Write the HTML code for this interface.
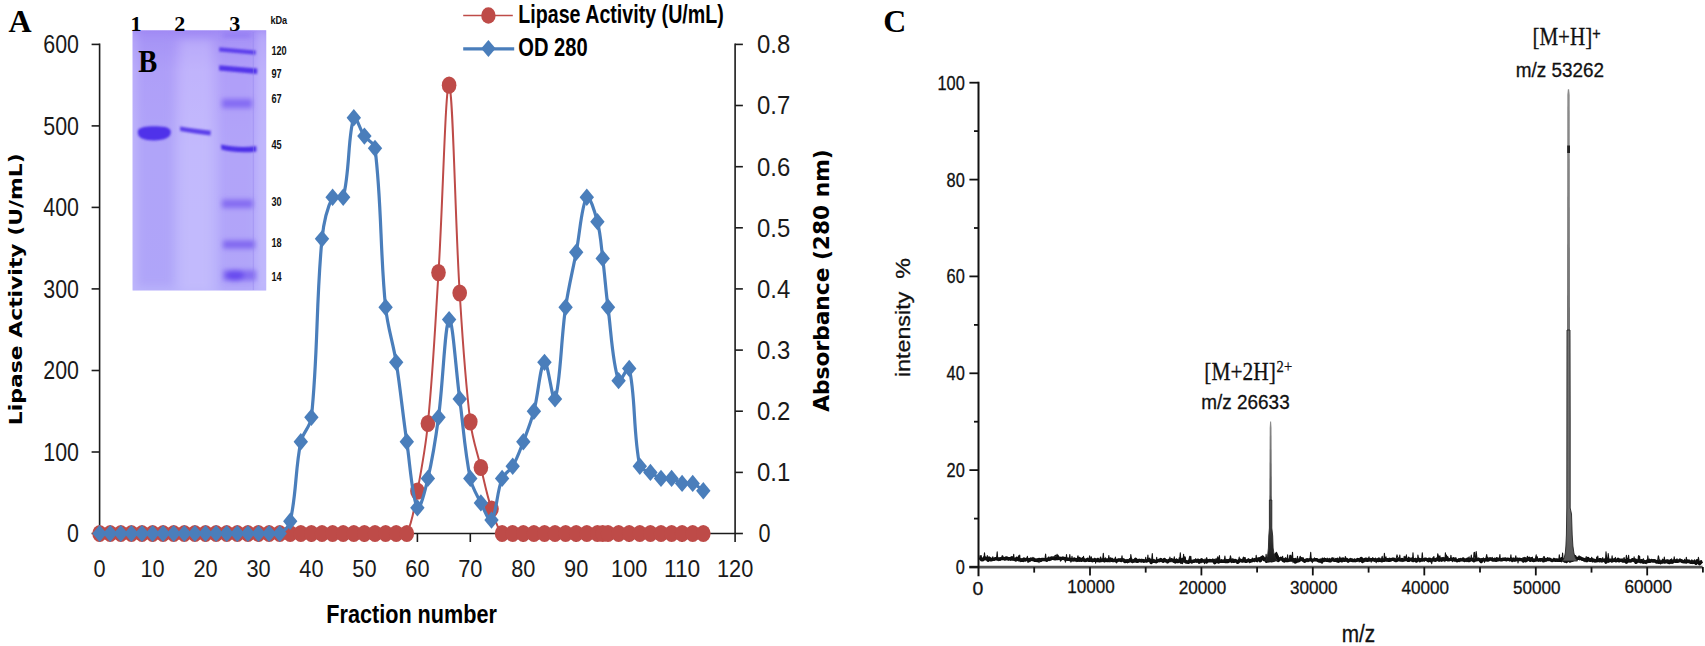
<!DOCTYPE html>
<html><head><meta charset="utf-8"><title>Figure</title>
<style>
html,body{margin:0;padding:0;background:#fff}
body{width:1705px;height:646px;overflow:hidden}
svg{display:block}
.ls{font-family:"Liberation Sans",sans-serif}
.lf{font-family:"Liberation Serif",serif}
.dj{font-family:"DejaVu Sans","Liberation Sans",sans-serif}
</style></head><body>
<svg width="1705" height="646" viewBox="0 0 1705 646">
<rect width="1705" height="646" fill="#fff"/>
<defs>
<clipPath id="gc"><rect x="132.6" y="30.3" width="133.6" height="260.3"/></clipPath>
<linearGradient id="gv" x1="0" y1="30" x2="0" y2="291" gradientUnits="userSpaceOnUse">
<stop offset="0" stop-color="#9f88f4"/><stop offset="0.05" stop-color="#ab98f7"/><stop offset="0.16" stop-color="#b7a7fa"/><stop offset="0.45" stop-color="#bab0fb"/><stop offset="1" stop-color="#b9b2fb"/></linearGradient>
<filter id="b1" x="-20%" y="-50%" width="140%" height="200%"><feGaussianBlur stdDeviation="1.3"/></filter>
<filter id="b2" x="-20%" y="-50%" width="140%" height="200%"><feGaussianBlur stdDeviation="2.4"/></filter>
<filter id="b4" x="-30%" y="-10%" width="160%" height="120%"><feGaussianBlur stdDeviation="4"/></filter>
</defs>
<g clip-path="url(#gc)"><rect x="130" y="28" width="140" height="266" fill="url(#gv)"/><g filter="url(#b4)"><rect x="137" y="36" width="36" height="250" fill="#a190f5" opacity="0.4"/><rect x="180" y="40" width="32" height="252" fill="#d0c8ff" opacity="0.38"/><rect x="220" y="30" width="36" height="262" fill="#a391f6" opacity="0.38"/><rect x="258" y="30" width="10" height="262" fill="#c8c0fd" opacity="0.6"/><rect x="130" y="30" width="6" height="262" fill="#c4bafc" opacity="0.6"/></g><g filter="url(#b2)"><rect x="222" y="99" width="30" height="9" fill="#7d60f2" opacity="0.85"/><rect x="222" y="199.5" width="31" height="8.5" fill="#7c62f0" opacity="0.85"/><rect x="223" y="240.5" width="32" height="8" fill="#7a5ff0" opacity="0.9"/><rect x="223" y="270" width="33" height="10.5" fill="#7a60f0" opacity="0.8"/><ellipse cx="235" cy="275.5" rx="9" ry="5.5" fill="#6648ee" opacity="0.9"/><rect x="223" y="33.8" width="28" height="3" fill="#7d62f0" opacity="0.6"/></g><g filter="url(#b1)"><path d="M137.8 131.5C138.3 127 146 126.2 154 126.2S170.3 126.6 170.8 131.5C171.3 137.6 164 140.4 154 140.4S137.3 138 137.8 131.5Z" fill="#4f33ea"/><path d="M180 126.6C190 128.2 200 129.4 210.8 130.8L210.5 135.4C200 134.2 190 132.8 180.2 131Z" fill="#5b3fea"/><path d="M219.3 47.2L255.8 50.4L255.5 54.8L219 51.4Z" fill="#5d40ec"/><path d="M219.3 65.2L257.3 68.4L257 74L219 70.6Z" fill="#5335ea"/><path d="M221 144.6C232 147 245 147.6 256.2 146L256.4 151.4C245 153 232 152.4 221.4 149.6Z" fill="#4d30e8"/></g><path d="M253.3 32V290" stroke="#9484ee" stroke-width="0.8" opacity="0.6"/></g>
<g fill="#000"><text x="130.6" y="31.2" class="lf" font-size="22" font-weight="bold">1</text><text x="174.2" y="31.2" class="lf" font-size="22" font-weight="bold">2</text><text x="229.2" y="31.2" class="lf" font-size="22" font-weight="bold">3</text><text x="138.2" y="72.4" class="lf" font-size="32" font-weight="bold" textLength="19.0" lengthAdjust="spacingAndGlyphs">B</text></g><g fill="#111"><text x="270.4" y="24.1" class="ls" font-size="10.8" font-weight="bold" textLength="16.8" lengthAdjust="spacingAndGlyphs">kDa</text><text x="271.4" y="54.6" class="ls" font-size="12" font-weight="bold" textLength="15.3" lengthAdjust="spacingAndGlyphs">120</text><text x="271.4" y="77.8" class="ls" font-size="12" font-weight="bold" textLength="10.2" lengthAdjust="spacingAndGlyphs">97</text><text x="271.4" y="103.3" class="ls" font-size="12" font-weight="bold" textLength="10.2" lengthAdjust="spacingAndGlyphs">67</text><text x="271.4" y="149.3" class="ls" font-size="12" font-weight="bold" textLength="10.2" lengthAdjust="spacingAndGlyphs">45</text><text x="271.4" y="206.3" class="ls" font-size="12" font-weight="bold" textLength="10.2" lengthAdjust="spacingAndGlyphs">30</text><text x="271.4" y="247.4" class="ls" font-size="12" font-weight="bold" textLength="10.2" lengthAdjust="spacingAndGlyphs">18</text><text x="271.4" y="280.7" class="ls" font-size="12" font-weight="bold" textLength="10.2" lengthAdjust="spacingAndGlyphs">14</text></g>
<g stroke="#1c1c1c" stroke-width="1.6" fill="none"><path d="M99.6 43.6 V533.5 H735.1 V43.6"/><path d="M91.6 533.5 H99.6"/><path d="M91.6 452.0 H99.6"/><path d="M91.6 370.5 H99.6"/><path d="M91.6 288.9 H99.6"/><path d="M91.6 207.4 H99.6"/><path d="M91.6 125.9 H99.6"/><path d="M91.6 44.4 H99.6"/><path d="M735.1 533.5 H742.9"/><path d="M735.1 472.4 H742.9"/><path d="M735.1 411.2 H742.9"/><path d="M735.1 350.1 H742.9"/><path d="M735.1 288.9 H742.9"/><path d="M735.1 227.8 H742.9"/><path d="M735.1 166.7 H742.9"/><path d="M735.1 105.5 H742.9"/><path d="M735.1 44.4 H742.9"/><path d="M99.6 533.5 V542.0"/><path d="M152.6 533.5 V542.0"/><path d="M205.5 533.5 V542.0"/><path d="M258.5 533.5 V542.0"/><path d="M311.4 533.5 V542.0"/><path d="M364.4 533.5 V542.0"/><path d="M417.4 533.5 V542.0"/><path d="M470.3 533.5 V542.0"/><path d="M523.3 533.5 V542.0"/><path d="M576.2 533.5 V542.0"/><path d="M629.2 533.5 V542.0"/><path d="M682.1 533.5 V542.0"/><path d="M735.1 533.5 V542.0"/></g>
<g fill="#1a1a1a"><text x="79.0" y="542.4" class="ls" font-size="25.5" text-anchor="end" textLength="11.9" lengthAdjust="spacingAndGlyphs">0</text><text x="79.0" y="460.9" class="ls" font-size="25.5" text-anchor="end" textLength="35.7" lengthAdjust="spacingAndGlyphs">100</text><text x="79.0" y="379.4" class="ls" font-size="25.5" text-anchor="end" textLength="35.7" lengthAdjust="spacingAndGlyphs">200</text><text x="79.0" y="297.8" class="ls" font-size="25.5" text-anchor="end" textLength="35.7" lengthAdjust="spacingAndGlyphs">300</text><text x="79.0" y="216.3" class="ls" font-size="25.5" text-anchor="end" textLength="35.7" lengthAdjust="spacingAndGlyphs">400</text><text x="79.0" y="134.8" class="ls" font-size="25.5" text-anchor="end" textLength="35.7" lengthAdjust="spacingAndGlyphs">500</text><text x="79.0" y="53.3" class="ls" font-size="25.5" text-anchor="end" textLength="35.7" lengthAdjust="spacingAndGlyphs">600</text><text x="758.5" y="542.4" class="ls" font-size="25.5" textLength="12.0" lengthAdjust="spacingAndGlyphs">0</text><text x="757.0" y="481.3" class="ls" font-size="25.5" textLength="33.2" lengthAdjust="spacingAndGlyphs">0.1</text><text x="757.0" y="420.1" class="ls" font-size="25.5" textLength="33.2" lengthAdjust="spacingAndGlyphs">0.2</text><text x="757.0" y="359.0" class="ls" font-size="25.5" textLength="33.2" lengthAdjust="spacingAndGlyphs">0.3</text><text x="757.0" y="297.8" class="ls" font-size="25.5" textLength="33.2" lengthAdjust="spacingAndGlyphs">0.4</text><text x="757.0" y="236.7" class="ls" font-size="25.5" textLength="33.2" lengthAdjust="spacingAndGlyphs">0.5</text><text x="757.0" y="175.6" class="ls" font-size="25.5" textLength="33.2" lengthAdjust="spacingAndGlyphs">0.6</text><text x="757.0" y="114.4" class="ls" font-size="25.5" textLength="33.2" lengthAdjust="spacingAndGlyphs">0.7</text><text x="757.0" y="53.3" class="ls" font-size="25.5" textLength="33.2" lengthAdjust="spacingAndGlyphs">0.8</text><text x="99.6" y="576.6" class="ls" font-size="24" text-anchor="middle" textLength="12.1" lengthAdjust="spacingAndGlyphs">0</text><text x="152.6" y="576.6" class="ls" font-size="24" text-anchor="middle" textLength="24.2" lengthAdjust="spacingAndGlyphs">10</text><text x="205.5" y="576.6" class="ls" font-size="24" text-anchor="middle" textLength="24.2" lengthAdjust="spacingAndGlyphs">20</text><text x="258.5" y="576.6" class="ls" font-size="24" text-anchor="middle" textLength="24.2" lengthAdjust="spacingAndGlyphs">30</text><text x="311.4" y="576.6" class="ls" font-size="24" text-anchor="middle" textLength="24.2" lengthAdjust="spacingAndGlyphs">40</text><text x="364.4" y="576.6" class="ls" font-size="24" text-anchor="middle" textLength="24.2" lengthAdjust="spacingAndGlyphs">50</text><text x="417.4" y="576.6" class="ls" font-size="24" text-anchor="middle" textLength="24.2" lengthAdjust="spacingAndGlyphs">60</text><text x="470.3" y="576.6" class="ls" font-size="24" text-anchor="middle" textLength="24.2" lengthAdjust="spacingAndGlyphs">70</text><text x="523.3" y="576.6" class="ls" font-size="24" text-anchor="middle" textLength="24.2" lengthAdjust="spacingAndGlyphs">80</text><text x="576.2" y="576.6" class="ls" font-size="24" text-anchor="middle" textLength="24.2" lengthAdjust="spacingAndGlyphs">90</text><text x="629.2" y="576.6" class="ls" font-size="24" text-anchor="middle" textLength="36.3" lengthAdjust="spacingAndGlyphs">100</text><text x="682.1" y="576.6" class="ls" font-size="24" text-anchor="middle" textLength="36.3" lengthAdjust="spacingAndGlyphs">110</text><text x="735.1" y="576.6" class="ls" font-size="24" text-anchor="middle" textLength="36.3" lengthAdjust="spacingAndGlyphs">120</text></g>
<path d="M99.6 533.5C101.5 533.5 106.4 533.5 110.2 533.5C114.0 533.5 117.0 533.5 120.8 533.5C124.6 533.5 127.6 533.5 131.4 533.5C135.2 533.5 138.2 533.5 142.0 533.5C145.8 533.5 148.7 533.5 152.6 533.5C156.4 533.5 159.3 533.5 163.1 533.5C167.0 533.5 169.9 533.5 173.7 533.5C177.6 533.5 180.5 533.5 184.3 533.5C188.1 533.5 191.1 533.5 194.9 533.5C198.7 533.5 201.7 533.5 205.5 533.5C209.3 533.5 212.3 533.5 216.1 533.5C219.9 533.5 222.9 533.5 226.7 533.5C230.5 533.5 233.5 533.5 237.3 533.5C241.1 533.5 244.1 533.5 247.9 533.5C251.7 533.5 254.7 533.5 258.5 533.5C262.3 533.5 265.3 533.5 269.1 533.5C272.9 533.5 275.8 533.5 279.7 533.5C283.5 533.5 286.4 533.5 290.2 533.5C294.1 533.5 297.0 533.5 300.8 533.5C304.7 533.5 307.6 533.5 311.4 533.5C315.2 533.5 318.2 533.5 322.0 533.5C325.8 533.5 328.8 533.5 332.6 533.5C336.4 533.5 339.4 533.5 343.2 533.5C347.0 533.5 350.0 533.5 353.8 533.5C357.6 533.5 360.6 533.5 364.4 533.5C368.2 533.5 371.2 533.5 375.0 533.5C378.8 533.5 381.8 533.5 385.6 533.5C389.4 533.5 392.4 533.5 396.2 533.5C400.0 533.5 405.3 536.5 406.8 533.5C412.9 521.2 414.4 506.5 417.4 491.1C422.0 466.9 425.6 448.0 427.9 423.5C433.2 369.3 435.1 327.0 438.5 272.6C442.8 205.2 445.5 81.7 449.1 85.2C453.1 89.0 455.0 218.3 459.7 293.0C462.6 339.5 464.7 375.7 470.3 421.8C472.3 438.5 476.9 451.1 480.9 467.5C484.5 482.5 486.8 494.4 491.5 509.0C494.4 518.2 496.6 527.2 502.1 533.5C504.3 536.0 508.9 533.5 512.7 533.5C516.5 533.5 519.5 533.5 523.3 533.5C527.1 533.5 530.0 533.5 533.9 533.5C537.7 533.5 540.6 533.5 544.5 533.5C548.3 533.5 551.2 533.5 555.0 533.5C558.9 533.5 561.8 533.5 565.6 533.5C569.4 533.5 572.4 533.5 576.2 533.5C580.0 533.5 583.0 533.5 586.8 533.5C590.6 533.5 593.6 533.5 597.4 533.5C599.3 533.5 600.8 533.5 602.7 533.5C604.6 533.5 606.1 533.5 608.0 533.5C611.8 533.5 614.8 533.5 618.6 533.5C622.4 533.5 625.4 533.5 629.2 533.5C633.0 533.5 636.0 533.5 639.8 533.5C643.6 533.5 646.6 533.5 650.4 533.5C654.2 533.5 657.1 533.5 661.0 533.5C664.8 533.5 667.7 533.5 671.6 533.5C675.4 533.5 678.3 533.5 682.1 533.5C686.0 533.5 688.9 533.5 692.7 533.5C696.5 533.5 701.4 533.5 703.3 533.5" fill="none" stroke="#be4b48" stroke-width="2" stroke-linejoin="round"/>
<g fill="#be4b48"><ellipse cx="99.6" cy="533.5" rx="7.3" ry="8.6"/><ellipse cx="110.2" cy="533.5" rx="7.3" ry="8.6"/><ellipse cx="120.8" cy="533.5" rx="7.3" ry="8.6"/><ellipse cx="131.4" cy="533.5" rx="7.3" ry="8.6"/><ellipse cx="142.0" cy="533.5" rx="7.3" ry="8.6"/><ellipse cx="152.6" cy="533.5" rx="7.3" ry="8.6"/><ellipse cx="163.1" cy="533.5" rx="7.3" ry="8.6"/><ellipse cx="173.7" cy="533.5" rx="7.3" ry="8.6"/><ellipse cx="184.3" cy="533.5" rx="7.3" ry="8.6"/><ellipse cx="194.9" cy="533.5" rx="7.3" ry="8.6"/><ellipse cx="205.5" cy="533.5" rx="7.3" ry="8.6"/><ellipse cx="216.1" cy="533.5" rx="7.3" ry="8.6"/><ellipse cx="226.7" cy="533.5" rx="7.3" ry="8.6"/><ellipse cx="237.3" cy="533.5" rx="7.3" ry="8.6"/><ellipse cx="247.9" cy="533.5" rx="7.3" ry="8.6"/><ellipse cx="258.5" cy="533.5" rx="7.3" ry="8.6"/><ellipse cx="269.1" cy="533.5" rx="7.3" ry="8.6"/><ellipse cx="279.7" cy="533.5" rx="7.3" ry="8.6"/><ellipse cx="290.2" cy="533.5" rx="7.3" ry="8.6"/><ellipse cx="300.8" cy="533.5" rx="7.3" ry="8.6"/><ellipse cx="311.4" cy="533.5" rx="7.3" ry="8.6"/><ellipse cx="322.0" cy="533.5" rx="7.3" ry="8.6"/><ellipse cx="332.6" cy="533.5" rx="7.3" ry="8.6"/><ellipse cx="343.2" cy="533.5" rx="7.3" ry="8.6"/><ellipse cx="353.8" cy="533.5" rx="7.3" ry="8.6"/><ellipse cx="364.4" cy="533.5" rx="7.3" ry="8.6"/><ellipse cx="375.0" cy="533.5" rx="7.3" ry="8.6"/><ellipse cx="385.6" cy="533.5" rx="7.3" ry="8.6"/><ellipse cx="396.2" cy="533.5" rx="7.3" ry="8.6"/><ellipse cx="406.8" cy="533.5" rx="7.3" ry="8.6"/><ellipse cx="417.4" cy="491.1" rx="7.3" ry="8.6"/><ellipse cx="427.9" cy="423.5" rx="7.3" ry="8.6"/><ellipse cx="438.5" cy="272.6" rx="7.3" ry="8.6"/><ellipse cx="449.1" cy="85.2" rx="7.3" ry="8.6"/><ellipse cx="459.7" cy="293.0" rx="7.3" ry="8.6"/><ellipse cx="470.3" cy="421.8" rx="7.3" ry="8.6"/><ellipse cx="480.9" cy="467.5" rx="7.3" ry="8.6"/><ellipse cx="491.5" cy="509.0" rx="7.3" ry="8.6"/><ellipse cx="502.1" cy="533.5" rx="7.3" ry="8.6"/><ellipse cx="512.7" cy="533.5" rx="7.3" ry="8.6"/><ellipse cx="523.3" cy="533.5" rx="7.3" ry="8.6"/><ellipse cx="533.9" cy="533.5" rx="7.3" ry="8.6"/><ellipse cx="544.5" cy="533.5" rx="7.3" ry="8.6"/><ellipse cx="555.0" cy="533.5" rx="7.3" ry="8.6"/><ellipse cx="565.6" cy="533.5" rx="7.3" ry="8.6"/><ellipse cx="576.2" cy="533.5" rx="7.3" ry="8.6"/><ellipse cx="586.8" cy="533.5" rx="7.3" ry="8.6"/><ellipse cx="597.4" cy="533.5" rx="7.3" ry="8.6"/><ellipse cx="602.7" cy="533.5" rx="7.3" ry="8.6"/><ellipse cx="608.0" cy="533.5" rx="7.3" ry="8.6"/><ellipse cx="618.6" cy="533.5" rx="7.3" ry="8.6"/><ellipse cx="629.2" cy="533.5" rx="7.3" ry="8.6"/><ellipse cx="639.8" cy="533.5" rx="7.3" ry="8.6"/><ellipse cx="650.4" cy="533.5" rx="7.3" ry="8.6"/><ellipse cx="661.0" cy="533.5" rx="7.3" ry="8.6"/><ellipse cx="671.6" cy="533.5" rx="7.3" ry="8.6"/><ellipse cx="682.1" cy="533.5" rx="7.3" ry="8.6"/><ellipse cx="692.7" cy="533.5" rx="7.3" ry="8.6"/><ellipse cx="703.3" cy="533.5" rx="7.3" ry="8.6"/></g>
<path d="M99.6 533.5C101.5 533.5 106.4 533.5 110.2 533.5C114.0 533.5 117.0 533.5 120.8 533.5C124.6 533.5 127.6 533.5 131.4 533.5C135.2 533.5 138.2 533.5 142.0 533.5C145.8 533.5 148.7 533.5 152.6 533.5C156.4 533.5 159.3 533.5 163.1 533.5C167.0 533.5 169.9 533.5 173.7 533.5C177.6 533.5 180.5 533.5 184.3 533.5C188.1 533.5 191.1 533.5 194.9 533.5C198.7 533.5 201.7 533.5 205.5 533.5C209.3 533.5 212.3 533.5 216.1 533.5C219.9 533.5 222.9 533.5 226.7 533.5C230.5 533.5 233.5 533.5 237.3 533.5C241.1 533.5 244.1 533.5 247.9 533.5C251.7 533.5 254.7 533.5 258.5 533.5C262.3 533.5 265.3 533.5 269.1 533.5C272.9 533.5 276.6 535.2 279.7 533.5C284.3 530.8 289.0 526.8 290.2 521.3C296.6 493.8 295.1 469.9 300.8 441.8C302.7 432.5 310.4 426.8 311.4 417.3C318.1 353.7 315.9 302.7 322.0 238.8C323.5 223.5 326.5 209.2 332.6 197.2C334.1 194.3 342.3 200.6 343.2 197.2C349.9 172.0 347.8 135.2 353.8 117.8C355.4 113.2 360.1 129.9 364.4 136.1C367.7 140.9 374.3 142.7 375.0 148.3C381.9 204.3 379.9 250.3 385.6 307.3C387.6 327.3 393.0 342.4 396.2 362.3C400.7 390.8 402.6 413.2 406.8 441.8C410.2 465.6 412.2 498.8 417.4 507.8C419.8 512.0 425.4 489.4 427.9 478.5C433.0 456.8 435.6 439.5 438.5 417.3C443.2 382.2 444.9 323.2 449.1 319.5C452.5 316.6 455.9 370.4 459.7 399.0C463.5 427.6 464.6 450.4 470.3 478.5C472.2 487.8 476.6 494.4 480.9 502.9C484.2 509.4 489.1 522.9 491.5 520.0C496.7 514.1 496.5 492.5 502.1 478.5C504.2 473.2 509.8 471.2 512.7 466.2C517.4 458.0 519.8 450.7 523.3 441.8C527.4 430.9 530.9 422.5 533.9 411.2C538.5 393.8 540.1 364.8 544.5 362.3C547.8 360.4 552.8 404.8 555.0 399.0C560.4 385.0 560.9 340.2 565.6 307.3C568.5 287.3 572.4 272.1 576.2 252.3C580.0 232.5 581.6 204.7 586.8 197.2C589.3 193.7 595.0 212.5 597.4 221.7C600.7 234.5 601.1 245.1 602.7 258.4C604.9 276.0 605.7 289.7 608.0 307.3C611.4 333.8 612.3 362.6 618.6 380.7C620.0 384.6 628.1 364.1 629.2 368.4C635.7 394.9 633.0 433.0 639.8 466.2C640.6 470.4 646.6 470.2 650.4 472.4C654.2 474.6 656.9 477.3 661.0 478.5C664.5 479.5 667.9 477.6 671.6 478.5C675.5 479.4 678.1 482.4 682.1 483.4C685.8 484.2 689.3 482.2 692.7 483.4C696.9 484.8 701.4 489.4 703.3 490.7" fill="none" stroke="#4a7ebb" stroke-width="3.2" stroke-linejoin="round"/>
<g fill="#4a7ebb"><path d="M99.6 524.9L106.8 533.5L99.6 542.1L92.4 533.5Z"/><path d="M110.2 524.9L117.4 533.5L110.2 542.1L103.0 533.5Z"/><path d="M120.8 524.9L128.0 533.5L120.8 542.1L113.6 533.5Z"/><path d="M131.4 524.9L138.6 533.5L131.4 542.1L124.2 533.5Z"/><path d="M142.0 524.9L149.2 533.5L142.0 542.1L134.8 533.5Z"/><path d="M152.6 524.9L159.8 533.5L152.6 542.1L145.4 533.5Z"/><path d="M163.1 524.9L170.3 533.5L163.1 542.1L155.9 533.5Z"/><path d="M173.7 524.9L180.9 533.5L173.7 542.1L166.5 533.5Z"/><path d="M184.3 524.9L191.5 533.5L184.3 542.1L177.1 533.5Z"/><path d="M194.9 524.9L202.1 533.5L194.9 542.1L187.7 533.5Z"/><path d="M205.5 524.9L212.7 533.5L205.5 542.1L198.3 533.5Z"/><path d="M216.1 524.9L223.3 533.5L216.1 542.1L208.9 533.5Z"/><path d="M226.7 524.9L233.9 533.5L226.7 542.1L219.5 533.5Z"/><path d="M237.3 524.9L244.5 533.5L237.3 542.1L230.1 533.5Z"/><path d="M247.9 524.9L255.1 533.5L247.9 542.1L240.7 533.5Z"/><path d="M258.5 524.9L265.7 533.5L258.5 542.1L251.3 533.5Z"/><path d="M269.1 524.9L276.3 533.5L269.1 542.1L261.9 533.5Z"/><path d="M279.7 524.9L286.9 533.5L279.7 542.1L272.5 533.5Z"/><path d="M290.2 512.6L297.4 521.3L290.2 529.9L283.1 521.3Z"/><path d="M300.8 433.1L308.0 441.8L300.8 450.4L293.6 441.8Z"/><path d="M311.4 408.7L318.6 417.3L311.4 426.0L304.2 417.3Z"/><path d="M322.0 230.2L329.2 238.8L322.0 247.5L314.8 238.8Z"/><path d="M332.6 188.6L339.8 197.2L332.6 205.9L325.4 197.2Z"/><path d="M343.2 188.6L350.4 197.2L343.2 205.9L336.0 197.2Z"/><path d="M353.8 109.1L361.0 117.8L353.8 126.4L346.6 117.8Z"/><path d="M364.4 127.5L371.6 136.1L364.4 144.8L357.2 136.1Z"/><path d="M375.0 139.7L382.2 148.3L375.0 157.0L367.8 148.3Z"/><path d="M385.6 298.6L392.8 307.3L385.6 315.9L378.4 307.3Z"/><path d="M396.2 353.7L403.4 362.3L396.2 371.0L389.0 362.3Z"/><path d="M406.8 433.1L414.0 441.8L406.8 450.4L399.6 441.8Z"/><path d="M417.4 499.2L424.6 507.8L417.4 516.5L410.2 507.8Z"/><path d="M427.9 469.8L435.1 478.5L427.9 487.1L420.7 478.5Z"/><path d="M438.5 408.7L445.7 417.3L438.5 426.0L431.3 417.3Z"/><path d="M449.1 310.9L456.3 319.5L449.1 328.2L441.9 319.5Z"/><path d="M459.7 390.3L466.9 399.0L459.7 407.6L452.5 399.0Z"/><path d="M470.3 469.8L477.5 478.5L470.3 487.1L463.1 478.5Z"/><path d="M480.9 494.3L488.1 502.9L480.9 511.6L473.7 502.9Z"/><path d="M491.5 511.4L498.7 520.0L491.5 528.7L484.3 520.0Z"/><path d="M502.1 469.8L509.3 478.5L502.1 487.1L494.9 478.5Z"/><path d="M512.7 457.6L519.9 466.2L512.7 474.9L505.5 466.2Z"/><path d="M523.3 433.1L530.5 441.8L523.3 450.4L516.1 441.8Z"/><path d="M533.9 402.6L541.1 411.2L533.9 419.9L526.7 411.2Z"/><path d="M544.5 353.7L551.7 362.3L544.5 371.0L537.2 362.3Z"/><path d="M555.0 390.3L562.2 399.0L555.0 407.6L547.8 399.0Z"/><path d="M565.6 298.6L572.8 307.3L565.6 315.9L558.4 307.3Z"/><path d="M576.2 243.6L583.4 252.3L576.2 260.9L569.0 252.3Z"/><path d="M586.8 188.6L594.0 197.2L586.8 205.9L579.6 197.2Z"/><path d="M597.4 213.0L604.6 221.7L597.4 230.3L590.2 221.7Z"/><path d="M602.7 249.7L609.9 258.4L602.7 267.0L595.5 258.4Z"/><path d="M608.0 298.6L615.2 307.3L608.0 315.9L600.8 307.3Z"/><path d="M618.6 372.0L625.8 380.7L618.6 389.3L611.4 380.7Z"/><path d="M629.2 359.8L636.4 368.4L629.2 377.1L622.0 368.4Z"/><path d="M639.8 457.6L647.0 466.2L639.8 474.9L632.6 466.2Z"/><path d="M650.4 463.7L657.6 472.4L650.4 481.0L643.2 472.4Z"/><path d="M661.0 469.8L668.2 478.5L661.0 487.1L653.8 478.5Z"/><path d="M671.6 469.8L678.8 478.5L671.6 487.1L664.4 478.5Z"/><path d="M682.1 474.7L689.3 483.4L682.1 492.0L674.9 483.4Z"/><path d="M692.7 474.7L699.9 483.4L692.7 492.0L685.5 483.4Z"/><path d="M703.3 482.1L710.5 490.7L703.3 499.4L696.1 490.7Z"/></g>
<path d="M463.2 15.5H512.8" stroke="#be4b48" stroke-width="1.7"/><ellipse cx="488.4" cy="15.5" rx="7.2" ry="8.2" fill="#be4b48"/>
<path d="M463.2 48.9H514.2" stroke="#4a7ebb" stroke-width="3.2"/><g fill="#4a7ebb"><path d="M488.4 39.9L495.6 48.5L488.4 57.1L481.2 48.5Z"/></g>
<text x="518.3" y="22.5" class="ls" font-size="25.5" font-weight="bold" textLength="205.5" lengthAdjust="spacingAndGlyphs" fill="#000">Lipase Activity (U/mL)</text>
<text x="518.3" y="56.3" class="ls" font-size="25" font-weight="bold" textLength="69.3" lengthAdjust="spacingAndGlyphs" fill="#000">OD 280</text>
<text x="411.6" y="623.2" class="ls" font-size="25" font-weight="bold" text-anchor="middle" textLength="170.6" lengthAdjust="spacingAndGlyphs" fill="#000">Fraction number</text>
<text class="dj" font-size="18.5" font-weight="bold" text-anchor="middle" textLength="272.0" lengthAdjust="spacingAndGlyphs" fill="#000" transform="translate(21.8 289.2) rotate(-90)">Lipase Activity (U/mL)</text>
<text class="dj" font-size="20.5" font-weight="bold" text-anchor="middle" textLength="262.5" lengthAdjust="spacingAndGlyphs" fill="#000" transform="translate(829.0 280.5) rotate(-90)">Absorbance (280 nm)</text>
<text x="8.6" y="31.7" class="lf" font-size="32" font-weight="bold" fill="#000">A</text>
<text x="883.2" y="32.3" class="lf" font-size="32" font-weight="bold" textLength="23.0" lengthAdjust="spacingAndGlyphs" fill="#000">C</text>
<path d="M969.3 567.1H1702.6" stroke="#555" stroke-width="2.6" fill="none"/>
<g stroke="#111" stroke-width="2" fill="none"><path d="M978.5 81.8V576.2"/></g><g stroke="#111" stroke-width="1.8" fill="none"><path d="M969.4 567.0H978.5"/><path d="M974 518.6H978.5"/><path d="M969.4 470.1H978.5"/><path d="M974 421.7H978.5"/><path d="M969.4 373.3H978.5"/><path d="M974 324.9H978.5"/><path d="M969.4 276.4H978.5"/><path d="M974 228.0H978.5"/><path d="M969.4 179.6H978.5"/><path d="M974 131.1H978.5"/><path d="M969.4 82.7H978.5"/><path d="M1034.2 567.1V572.6"/><path d="M1090.0 567.1V575.4"/><path d="M1145.7 567.1V572.6"/><path d="M1201.4 567.1V575.4"/><path d="M1257.1 567.1V572.6"/><path d="M1312.8 567.1V575.4"/><path d="M1368.6 567.1V572.6"/><path d="M1424.3 567.1V575.4"/><path d="M1480.0 567.1V572.6"/><path d="M1535.8 567.1V575.4"/><path d="M1591.5 567.1V572.6"/><path d="M1647.2 567.1V575.4"/><path d="M1702.9 567.1V572.6"/></g>
<g fill="#111" stroke="#111" stroke-width="0.3"><text x="964.8" y="573.9" class="ls" font-size="19.5" text-anchor="end" textLength="9.1" lengthAdjust="spacingAndGlyphs">0</text><text x="964.8" y="477.0" class="ls" font-size="19.5" text-anchor="end" textLength="18.2" lengthAdjust="spacingAndGlyphs">20</text><text x="964.8" y="380.2" class="ls" font-size="19.5" text-anchor="end" textLength="18.2" lengthAdjust="spacingAndGlyphs">40</text><text x="964.8" y="283.3" class="ls" font-size="19.5" text-anchor="end" textLength="18.2" lengthAdjust="spacingAndGlyphs">60</text><text x="964.8" y="186.5" class="ls" font-size="19.5" text-anchor="end" textLength="18.2" lengthAdjust="spacingAndGlyphs">80</text><text x="964.8" y="89.6" class="ls" font-size="19.5" text-anchor="end" textLength="27.3" lengthAdjust="spacingAndGlyphs">100</text><text x="978.0" y="595.2" class="ls" font-size="19.2" text-anchor="middle" textLength="10.8" lengthAdjust="spacingAndGlyphs">0</text><text x="1091.0" y="593.2" class="ls" font-size="19.2" text-anchor="middle" textLength="47.5" lengthAdjust="spacingAndGlyphs">10000</text><text x="1202.4" y="593.8" class="ls" font-size="19.2" text-anchor="middle" textLength="47.5" lengthAdjust="spacingAndGlyphs">20000</text><text x="1313.8" y="593.8" class="ls" font-size="19.2" text-anchor="middle" textLength="47.5" lengthAdjust="spacingAndGlyphs">30000</text><text x="1425.3" y="593.5" class="ls" font-size="19.2" text-anchor="middle" textLength="47.5" lengthAdjust="spacingAndGlyphs">40000</text><text x="1536.8" y="594.3" class="ls" font-size="19.2" text-anchor="middle" textLength="47.5" lengthAdjust="spacingAndGlyphs">50000</text><text x="1648.2" y="592.8" class="ls" font-size="19.2" text-anchor="middle" textLength="47.5" lengthAdjust="spacingAndGlyphs">60000</text><text x="1358.5" y="641.6" class="ls" font-size="23.3" text-anchor="middle" textLength="33.5" lengthAdjust="spacingAndGlyphs">m/z</text><text class="ls" font-size="20" text-anchor="middle" textLength="119.0" lengthAdjust="spacingAndGlyphs" transform="translate(909.7 317.6) rotate(-90)">intensity&#160;&#160;%</text><text x="1204.3" y="380.3" class="lf" font-size="26" textLength="71.5" lengthAdjust="spacingAndGlyphs">[M+2H]</text><text x="1276.6" y="372.0" class="lf" font-size="17.5" textLength="15.5" lengthAdjust="spacingAndGlyphs">2+</text><text x="1201.2" y="408.5" class="ls" font-size="21" textLength="88.5" lengthAdjust="spacingAndGlyphs">m/z 26633</text><text x="1532.4" y="45.3" class="lf" font-size="25.5" textLength="59.8" lengthAdjust="spacingAndGlyphs">[M+H]</text><text x="1592.2" y="38.5" class="ls" font-size="16" textLength="8.4" lengthAdjust="spacingAndGlyphs">+</text><text x="1515.7" y="76.9" class="ls" font-size="20.5" textLength="88.3" lengthAdjust="spacingAndGlyphs">m/z 53262</text></g>
<path d="M979.6 560.1L980.8 559.0L982.0 559.7L983.2 559.5L984.4 557.8L985.6 558.5L986.8 558.7L988.0 560.1L989.2 558.1L990.4 559.7L991.6 559.7L992.8 559.3L994.0 559.4L995.2 558.7L996.4 558.9L997.6 559.0L998.8 559.0L1000.0 559.2L1001.2 558.6L1002.4 558.4L1003.6 558.5L1004.8 559.1L1006.0 557.9L1007.2 558.2L1008.4 558.8L1009.6 558.8L1010.8 559.0L1012.0 557.7L1013.2 559.1L1014.4 559.2L1015.6 559.9L1016.8 558.4L1018.0 559.4L1019.2 559.9L1020.4 559.9L1021.6 560.3L1022.8 560.3L1024.0 559.1L1025.2 560.1L1026.4 559.5L1027.6 559.3L1028.8 560.6L1030.0 559.4L1031.2 559.3L1032.4 559.5L1033.6 559.3L1034.8 560.4L1036.0 560.0L1037.2 560.6L1038.4 560.1L1039.6 559.5L1040.8 560.4L1042.0 559.4L1043.2 559.5L1044.4 559.6L1045.6 559.7L1046.8 560.2L1048.0 559.1L1049.2 559.5L1050.4 559.1L1051.6 558.2L1052.8 558.2L1054.0 558.5L1055.2 558.7L1056.4 558.6L1057.6 558.6L1058.8 558.4L1060.0 558.2L1061.2 558.8L1062.4 558.2L1063.6 558.2L1064.8 558.9L1066.0 558.5L1067.2 559.2L1068.4 559.2L1069.6 559.4L1070.8 559.8L1072.0 559.5L1073.2 559.7L1074.4 559.0L1075.6 560.1L1076.8 559.6L1078.0 560.3L1079.2 558.5L1080.4 559.7L1081.6 560.3L1082.8 558.7L1084.0 560.0L1085.2 560.2L1086.4 560.2L1087.6 559.3L1088.8 560.3L1090.0 560.3L1091.2 559.6L1092.4 560.7L1093.6 560.2L1094.8 560.2L1096.0 560.0L1097.2 560.6L1098.4 560.3L1099.6 560.9L1100.8 560.5L1102.0 559.9L1103.2 560.2L1104.4 560.8L1105.6 560.1L1106.8 560.5L1108.0 560.6L1109.2 560.2L1110.4 559.0L1111.6 560.4L1112.8 560.5L1114.0 560.5L1115.2 559.9L1116.4 561.1L1117.6 560.3L1118.8 560.1L1120.0 560.0L1121.2 560.6L1122.4 559.8L1123.6 559.9L1124.8 561.6L1126.0 561.2L1127.2 561.1L1128.4 561.3L1129.6 560.8L1130.8 559.5L1132.0 561.2L1133.2 561.2L1134.4 560.8L1135.6 559.4L1136.8 561.3L1138.0 561.3L1139.2 560.3L1140.4 560.6L1141.6 561.0L1142.8 560.5L1144.0 561.2L1145.2 560.7L1146.4 561.0L1147.6 560.7L1148.8 559.8L1150.0 560.1L1151.2 562.5L1152.4 560.8L1153.6 561.4L1154.8 561.3L1156.0 561.7L1157.2 561.0L1158.4 560.4L1159.6 560.7L1160.8 559.6L1162.0 560.6L1163.2 561.3L1164.4 559.5L1165.6 560.9L1166.8 561.2L1168.0 561.5L1169.2 560.2L1170.4 560.4L1171.6 559.7L1172.8 560.2L1174.0 561.1L1175.2 562.0L1176.4 560.2L1177.6 561.6L1178.8 561.1L1180.0 560.6L1181.2 562.1L1182.4 559.4L1183.6 560.8L1184.8 561.0L1186.0 562.1L1187.2 562.0L1188.4 562.2L1189.6 561.0L1190.8 561.5L1192.0 561.7L1193.2 561.2L1194.4 561.2L1195.6 560.9L1196.8 560.7L1198.0 560.3L1199.2 562.1L1200.4 560.7L1201.6 559.8L1202.8 561.1L1204.0 561.0L1205.2 561.1L1206.4 562.0L1207.6 560.9L1208.8 560.8L1210.0 560.5L1211.2 560.9L1212.4 560.7L1213.6 561.0L1214.8 562.7L1216.0 561.1L1217.2 560.4L1218.4 562.0L1219.6 561.4L1220.8 561.3L1222.0 561.3L1223.2 561.3L1224.4 561.2L1225.6 561.6L1226.8 561.4L1228.0 561.6L1229.2 560.5L1230.4 560.8L1231.6 560.3L1232.8 561.3L1234.0 561.2L1235.2 560.5L1236.4 561.1L1237.6 562.3L1238.8 561.4L1240.0 560.1L1241.2 560.7L1242.4 561.1L1243.6 560.7L1244.8 560.9L1246.0 561.4L1247.2 560.9L1248.4 560.0L1249.6 561.1L1250.8 560.6L1252.0 560.7L1253.2 560.3L1254.4 559.8L1255.6 559.9L1256.8 560.4L1258.0 560.0L1259.2 558.9L1260.4 560.7L1261.6 557.7L1262.8 557.2L1264.0 559.6L1265.2 559.0L1266.4 561.3L1267.6 560.1L1268.8 560.9L1270.0 560.2L1271.2 560.7L1272.4 560.5L1273.6 560.3L1274.8 557.4L1276.0 554.3L1277.2 556.6L1278.4 560.4L1279.6 559.1L1280.8 558.3L1282.0 558.9L1283.2 560.4L1284.4 561.0L1285.6 559.6L1286.8 560.6L1288.0 560.3L1289.2 560.2L1290.4 559.9L1291.6 560.0L1292.8 559.8L1294.0 559.8L1295.2 561.9L1296.4 561.4L1297.6 560.4L1298.8 560.8L1300.0 559.8L1301.2 558.8L1302.4 559.3L1303.6 560.5L1304.8 561.2L1306.0 560.3L1307.2 559.8L1308.4 560.2L1309.6 559.8L1310.8 559.5L1312.0 560.2L1313.2 560.1L1314.4 559.9L1315.6 559.8L1316.8 559.8L1318.0 560.5L1319.2 561.1L1320.4 560.2L1321.6 561.6L1322.8 559.4L1324.0 560.5L1325.2 559.6L1326.4 560.2L1327.6 560.3L1328.8 560.6L1330.0 560.9L1331.2 559.9L1332.4 559.5L1333.6 560.1L1334.8 560.4L1336.0 559.8L1337.2 560.8L1338.4 561.2L1339.6 559.4L1340.8 560.4L1342.0 560.8L1343.2 559.1L1344.4 560.3L1345.6 560.1L1346.8 559.4L1348.0 561.0L1349.2 560.3L1350.4 559.9L1351.6 560.4L1352.8 560.6L1354.0 560.6L1355.2 560.5L1356.4 560.4L1357.6 559.5L1358.8 559.9L1360.0 560.2L1361.2 558.5L1362.4 561.4L1363.6 559.9L1364.8 559.5L1366.0 559.1L1367.2 560.3L1368.4 560.1L1369.6 559.8L1370.8 559.9L1372.0 559.6L1373.2 559.7L1374.4 560.0L1375.6 559.7L1376.8 560.5L1378.0 560.0L1379.2 560.2L1380.4 560.3L1381.6 560.8L1382.8 560.4L1384.0 560.2L1385.2 560.0L1386.4 559.6L1387.6 559.8L1388.8 560.4L1390.0 560.2L1391.2 559.8L1392.4 559.3L1393.6 559.1L1394.8 560.2L1396.0 560.6L1397.2 560.2L1398.4 559.2L1399.6 559.9L1400.8 560.1L1402.0 559.5L1403.2 560.2L1404.4 559.9L1405.6 559.5L1406.8 559.2L1408.0 560.4L1409.2 560.2L1410.4 559.4L1411.6 559.4L1412.8 560.5L1414.0 560.3L1415.2 559.8L1416.4 560.9L1417.6 559.8L1418.8 559.3L1420.0 560.6L1421.2 559.8L1422.4 560.1L1423.6 559.9L1424.8 559.3L1426.0 559.2L1427.2 559.8L1428.4 560.7L1429.6 559.3L1430.8 560.7L1432.0 560.0L1433.2 559.2L1434.4 560.0L1435.6 560.2L1436.8 559.3L1438.0 558.6L1439.2 560.1L1440.4 559.2L1441.6 560.1L1442.8 558.7L1444.0 559.7L1445.2 559.3L1446.4 558.9L1447.6 559.7L1448.8 559.9L1450.0 559.5L1451.2 559.1L1452.4 559.9L1453.6 558.8L1454.8 560.1L1456.0 560.1L1457.2 560.8L1458.4 560.3L1459.6 560.0L1460.8 559.9L1462.0 559.8L1463.2 559.0L1464.4 560.6L1465.6 560.0L1466.8 559.6L1468.0 559.1L1469.2 560.6L1470.4 560.0L1471.6 559.0L1472.8 560.1L1474.0 560.8L1475.2 559.7L1476.4 559.9L1477.6 559.4L1478.8 559.3L1480.0 560.3L1481.2 561.5L1482.4 559.7L1483.6 559.6L1484.8 560.1L1486.0 559.5L1487.2 560.1L1488.4 560.1L1489.6 559.0L1490.8 559.0L1492.0 559.6L1493.2 560.1L1494.4 559.8L1495.6 560.3L1496.8 558.8L1498.0 559.9L1499.2 559.2L1500.4 559.7L1501.6 559.8L1502.8 559.1L1504.0 559.5L1505.2 559.0L1506.4 559.8L1507.6 559.2L1508.8 559.4L1510.0 559.8L1511.2 559.3L1512.4 560.4L1513.6 559.4L1514.8 560.2L1516.0 559.9L1517.2 559.2L1518.4 559.6L1519.6 559.3L1520.8 559.6L1522.0 559.6L1523.2 560.9L1524.4 559.6L1525.6 560.7L1526.8 560.1L1528.0 559.1L1529.2 558.5L1530.4 560.3L1531.6 558.7L1532.8 560.3L1534.0 560.5L1535.2 560.1L1536.4 559.8L1537.6 559.8L1538.8 560.1L1540.0 559.8L1541.2 559.7L1542.4 559.8L1543.6 560.7L1544.8 559.6L1546.0 560.2L1547.2 559.4L1548.4 559.6L1549.6 559.2L1550.8 559.9L1552.0 560.5L1553.2 560.2L1554.4 559.8L1555.6 560.4L1556.8 559.9L1558.0 560.3L1559.2 560.3L1560.4 560.4L1561.6 558.7L1562.8 559.4L1564.0 560.6L1565.2 560.1L1566.4 561.5L1567.6 560.0L1568.8 559.8L1570.0 561.0L1571.2 560.4L1572.4 560.4L1573.6 557.7L1574.8 556.5L1576.0 558.5L1577.2 558.5L1578.4 558.4L1579.6 557.9L1580.8 558.2L1582.0 559.3L1583.2 559.2L1584.4 560.1L1585.6 559.8L1586.8 560.7L1588.0 558.6L1589.2 560.0L1590.4 560.3L1591.6 559.5L1592.8 560.7L1594.0 560.3L1595.2 560.9L1596.4 560.7L1597.6 560.6L1598.8 560.1L1600.0 559.6L1601.2 560.1L1602.4 560.0L1603.6 560.4L1604.8 560.0L1606.0 562.1L1607.2 559.4L1608.4 561.1L1609.6 560.1L1610.8 560.3L1612.0 561.0L1613.2 560.5L1614.4 559.8L1615.6 560.8L1616.8 560.5L1618.0 559.4L1619.2 560.8L1620.4 560.1L1621.6 560.3L1622.8 561.0L1624.0 561.0L1625.2 560.6L1626.4 562.1L1627.6 561.1L1628.8 560.5L1630.0 561.1L1631.2 560.9L1632.4 559.7L1633.6 560.1L1634.8 560.2L1636.0 562.3L1637.2 561.0L1638.4 561.0L1639.6 560.8L1640.8 561.7L1642.0 561.2L1643.2 562.2L1644.4 561.7L1645.6 562.2L1646.8 561.2L1648.0 561.5L1649.2 561.1L1650.4 561.2L1651.6 560.4L1652.8 561.0L1654.0 560.8L1655.2 561.0L1656.4 562.1L1657.6 561.6L1658.8 562.2L1660.0 562.0L1661.2 562.0L1662.4 562.1L1663.6 561.2L1664.8 562.0L1666.0 561.3L1667.2 561.2L1668.4 562.1L1669.6 562.6L1670.8 560.8L1672.0 562.3L1673.2 561.7L1674.4 560.7L1675.6 561.3L1676.8 561.3L1678.0 561.2L1679.2 560.8L1680.4 560.3L1681.6 561.1L1682.8 561.6L1684.0 561.7L1685.2 561.7L1686.4 562.0L1687.6 560.9L1688.8 561.6L1690.0 561.9L1691.2 562.4L1692.4 562.0L1693.6 562.2L1694.8 562.1L1696.0 563.3L1697.2 560.8L1698.4 562.1L1699.6 563.6L1700.8 562.3L1702.0 561.1" fill="none" stroke="#0c0c0c" stroke-width="3.4" stroke-linejoin="round"/>
<path d="M979.6 558.7L980.1 555.5L980.7 558.7L981.2 555.6L981.8 559.5L982.3 559.2L982.9 559.6L983.4 559.6L984.0 557.8L984.5 552.9L985.1 558.8L985.6 559.6L986.2 559.2L986.7 558.2L987.3 555.5L987.8 560.0L988.4 558.3L988.9 557.6L989.5 557.8L990.0 559.1L990.6 558.8L991.1 560.4L991.7 558.6L992.2 557.7L992.8 556.8L993.3 559.7L993.9 560.4L994.4 559.0L995.0 559.3L995.5 557.8L996.1 557.3L996.6 557.8L997.2 551.8L997.7 558.7L998.3 560.7L998.8 558.3L999.4 558.3L999.9 558.1L1000.5 558.7L1001.0 558.7L1001.6 558.4L1002.1 555.8L1002.7 555.9L1003.2 557.6L1003.8 558.2L1004.3 559.7L1004.9 559.1L1005.4 558.3L1006.0 558.6L1006.5 559.9L1007.1 559.8L1007.6 558.6L1008.2 560.4L1008.7 558.1L1009.3 558.5L1009.8 558.3L1010.4 560.3L1010.9 557.2L1011.5 557.9L1012.0 559.9L1012.6 557.5L1013.1 559.9L1013.7 554.4L1014.2 559.7L1014.8 559.6L1015.3 559.8L1015.9 560.8L1016.4 560.8L1017.0 558.6L1017.5 559.2L1018.1 558.9L1018.6 555.7L1019.2 558.5L1019.7 555.0L1020.3 561.7L1020.8 558.9L1021.4 558.7L1021.9 559.8L1022.5 559.5L1023.0 558.2L1023.6 561.7L1024.1 559.1L1024.7 559.3L1025.2 558.4L1025.8 559.6L1026.3 559.4L1026.9 558.2L1027.4 556.4L1028.0 562.5L1028.5 559.1L1029.1 559.5L1029.6 560.2L1030.2 561.3L1030.7 558.0L1031.3 559.5L1031.8 558.9L1032.4 559.8L1032.9 557.3L1033.5 559.7L1034.0 558.3L1034.6 558.4L1035.1 560.2L1035.7 559.7L1036.2 560.0L1036.8 559.7L1037.3 558.8L1037.9 558.8L1038.4 558.4L1039.0 562.7L1039.5 559.7L1040.1 560.6L1040.6 558.9L1041.2 559.6L1041.7 560.3L1042.3 558.6L1042.8 558.9L1043.4 560.3L1043.9 558.7L1044.5 560.4L1045.0 558.5L1045.6 554.0L1046.1 558.9L1046.7 561.4L1047.2 559.2L1047.8 558.8L1048.3 557.4L1048.9 556.9L1049.4 558.1L1050.0 558.8L1050.5 559.7L1051.1 556.7L1051.6 557.8L1052.2 557.3L1052.7 557.4L1053.3 556.8L1053.8 558.7L1054.4 557.4L1054.9 555.7L1055.5 555.3L1056.0 556.9L1056.6 556.0L1057.1 554.2L1057.7 558.5L1058.2 555.4L1058.8 557.6L1059.3 557.4L1059.9 558.6L1060.4 561.1L1061.0 560.5L1061.5 558.1L1062.1 557.2L1062.6 558.3L1063.2 558.4L1063.7 558.3L1064.3 559.8L1064.8 558.9L1065.4 562.1L1065.9 560.3L1066.5 554.6L1067.0 559.7L1067.6 560.0L1068.1 560.1L1068.7 559.2L1069.2 560.0L1069.8 554.5L1070.3 558.9L1070.9 562.1L1071.4 560.8L1072.0 556.2L1072.5 560.8L1073.1 558.7L1073.6 561.0L1074.2 560.7L1074.7 560.8L1075.3 559.9L1075.8 560.0L1076.4 559.0L1076.9 561.7L1077.5 557.2L1078.0 555.8L1078.6 558.9L1079.1 559.5L1079.7 561.5L1080.2 561.2L1080.8 560.4L1081.3 558.7L1081.9 560.9L1082.4 559.6L1083.0 558.9L1083.5 556.3L1084.1 561.6L1084.6 560.6L1085.2 561.8L1085.7 561.0L1086.3 559.6L1086.8 560.7L1087.4 560.5L1087.9 560.9L1088.5 561.3L1089.0 559.5L1089.6 555.8L1090.1 560.9L1090.7 559.0L1091.2 556.7L1091.8 558.8L1092.3 560.5L1092.9 560.0L1093.4 561.5L1094.0 558.7L1094.5 558.2L1095.1 558.2L1095.6 563.1L1096.2 559.6L1096.7 559.6L1097.3 558.4L1097.8 558.4L1098.4 558.4L1098.9 559.6L1099.5 560.6L1100.0 558.4L1100.6 557.0L1101.1 559.0L1101.7 561.8L1102.2 561.3L1102.8 558.6L1103.3 553.4L1103.9 559.9L1104.4 558.4L1105.0 561.8L1105.5 557.7L1106.1 559.8L1106.6 559.1L1107.2 558.7L1107.7 560.0L1108.3 560.1L1108.8 555.6L1109.4 559.9L1109.9 562.0L1110.5 560.4L1111.0 560.0L1111.6 559.3L1112.1 558.2L1112.7 558.6L1113.2 560.3L1113.8 561.1L1114.3 559.4L1114.9 561.4L1115.4 557.0L1116.0 560.7L1116.5 562.9L1117.1 561.0L1117.6 561.2L1118.2 560.6L1118.7 558.7L1119.3 560.3L1119.8 560.7L1120.4 558.7L1120.9 560.1L1121.5 559.4L1122.0 555.9L1122.6 560.4L1123.1 559.5L1123.7 560.9L1124.2 559.5L1124.8 561.7L1125.3 560.0L1125.9 560.0L1126.4 560.5L1127.0 559.4L1127.5 562.9L1128.1 559.3L1128.6 560.0L1129.2 561.8L1129.7 558.6L1130.3 561.6L1130.8 554.6L1131.4 558.1L1131.9 560.7L1132.5 562.8L1133.0 561.0L1133.6 559.5L1134.1 561.0L1134.7 560.0L1135.2 562.0L1135.8 559.5L1136.3 560.6L1136.9 561.4L1137.4 559.3L1138.0 561.5L1138.5 560.1L1139.1 561.1L1139.6 560.8L1140.2 560.1L1140.7 561.8L1141.3 559.1L1141.8 560.9L1142.4 559.9L1142.9 560.6L1143.5 561.2L1144.0 561.2L1144.6 560.4L1145.1 561.2L1145.7 557.3L1146.2 561.2L1146.8 560.5L1147.3 560.3L1147.9 555.0L1148.4 560.5L1149.0 561.4L1149.5 558.0L1150.1 560.8L1150.6 560.7L1151.2 562.1L1151.7 559.5L1152.3 553.6L1152.8 560.7L1153.4 561.8L1153.9 559.4L1154.5 560.3L1155.0 562.1L1155.6 561.7L1156.1 560.9L1156.7 557.4L1157.2 562.0L1157.8 562.0L1158.3 559.8L1158.9 560.4L1159.4 561.2L1160.0 560.2L1160.5 560.6L1161.1 559.5L1161.6 560.8L1162.2 560.4L1162.7 560.7L1163.3 560.0L1163.8 559.6L1164.4 559.5L1164.9 560.3L1165.5 560.7L1166.0 559.5L1166.6 559.5L1167.1 563.3L1167.7 560.6L1168.2 561.7L1168.8 561.1L1169.3 561.4L1169.9 557.1L1170.4 560.7L1171.0 561.9L1171.5 559.0L1172.1 560.0L1172.6 561.1L1173.2 562.2L1173.7 560.8L1174.3 556.9L1174.8 561.1L1175.4 561.0L1175.9 560.2L1176.5 559.0L1177.0 562.3L1177.6 561.8L1178.1 560.9L1178.7 560.9L1179.2 557.9L1179.8 559.1L1180.3 552.8L1180.9 560.4L1181.4 562.5L1182.0 560.0L1182.5 563.6L1183.1 560.3L1183.6 554.4L1184.2 562.0L1184.7 556.7L1185.3 557.4L1185.8 561.0L1186.4 560.5L1186.9 561.8L1187.5 561.4L1188.0 562.6L1188.6 560.8L1189.1 558.8L1189.7 556.3L1190.2 562.2L1190.8 556.3L1191.3 561.0L1191.9 563.1L1192.4 560.2L1193.0 561.0L1193.5 560.8L1194.1 559.7L1194.6 560.9L1195.2 559.6L1195.7 558.7L1196.3 562.3L1196.8 562.2L1197.4 559.2L1197.9 562.1L1198.5 560.6L1199.0 561.3L1199.6 560.0L1200.1 561.7L1200.7 560.9L1201.2 562.8L1201.8 561.7L1202.3 561.4L1202.9 560.9L1203.4 560.4L1204.0 561.8L1204.5 563.7L1205.1 558.8L1205.6 562.4L1206.2 561.1L1206.7 557.6L1207.3 559.9L1207.8 559.9L1208.4 560.8L1208.9 561.5L1209.5 560.6L1210.0 560.7L1210.6 561.0L1211.1 561.5L1211.7 560.1L1212.2 560.4L1212.8 558.8L1213.3 560.0L1213.9 560.1L1214.4 559.3L1215.0 561.5L1215.5 560.2L1216.1 558.3L1216.6 561.7L1217.2 561.1L1217.7 556.8L1218.3 558.4L1218.8 561.5L1219.4 555.5L1219.9 560.6L1220.5 560.9L1221.0 560.2L1221.6 559.7L1222.1 560.4L1222.7 561.0L1223.2 560.2L1223.8 561.2L1224.3 560.3L1224.9 556.1L1225.4 560.2L1226.0 561.8L1226.5 559.4L1227.1 560.6L1227.6 559.5L1228.2 560.8L1228.7 559.7L1229.3 559.2L1229.8 560.2L1230.4 555.7L1230.9 557.7L1231.5 562.7L1232.0 560.9L1232.6 558.7L1233.1 559.8L1233.7 559.2L1234.2 559.7L1234.8 560.1L1235.3 560.5L1235.9 560.5L1236.4 562.5L1237.0 560.9L1237.5 561.6L1238.1 559.8L1238.6 560.6L1239.2 557.1L1239.7 560.8L1240.3 559.9L1240.8 560.3L1241.4 560.9L1241.9 560.1L1242.5 560.0L1243.0 558.0L1243.6 557.2L1244.1 560.4L1244.7 557.6L1245.2 557.5L1245.8 561.7L1246.3 562.5L1246.9 561.2L1247.4 561.4L1248.0 560.1L1248.5 559.0L1249.1 561.8L1249.6 562.7L1250.2 561.3L1250.7 562.1L1251.3 559.5L1251.8 559.3L1252.4 558.0L1252.9 559.0L1253.5 559.4L1254.0 559.3L1254.6 561.8L1255.1 560.1L1255.7 559.5L1256.2 555.2L1256.8 560.2L1257.3 562.0L1257.9 557.5L1258.4 559.3L1259.0 559.2L1259.5 559.2L1260.1 560.5L1260.6 558.0L1261.2 558.2L1261.7 558.2L1262.3 555.8L1262.8 556.5L1263.4 557.3L1263.9 558.9L1264.5 559.8L1265.0 560.4L1265.6 560.3L1266.1 554.3L1266.7 559.0L1267.2 559.7L1267.8 562.0L1268.3 559.3L1268.9 561.6L1269.4 560.5L1270.0 557.9L1270.5 560.9L1271.1 560.6L1271.6 560.7L1272.2 558.6L1272.7 558.3L1273.3 559.9L1273.8 560.1L1274.4 558.9L1274.9 557.5L1275.5 553.9L1276.0 555.2L1276.6 552.2L1277.1 556.6L1277.7 556.9L1278.2 556.7L1278.8 558.2L1279.3 558.8L1279.9 558.4L1280.4 559.7L1281.0 557.7L1281.5 557.7L1282.1 558.5L1282.6 556.3L1283.2 560.6L1283.7 559.2L1284.3 558.7L1284.8 558.6L1285.4 557.7L1285.9 560.5L1286.5 558.2L1287.0 560.8L1287.6 554.8L1288.1 561.7L1288.7 560.6L1289.2 560.1L1289.8 555.4L1290.3 560.3L1290.9 555.0L1291.4 558.1L1292.0 561.0L1292.5 552.4L1293.1 562.6L1293.6 558.5L1294.2 560.3L1294.7 560.2L1295.3 558.5L1295.8 558.3L1296.4 560.5L1296.9 560.3L1297.5 556.4L1298.0 561.2L1298.6 559.7L1299.1 558.8L1299.7 557.5L1300.2 556.3L1300.8 558.0L1301.3 560.8L1301.9 559.1L1302.4 559.8L1303.0 557.5L1303.5 559.3L1304.1 560.1L1304.6 560.0L1305.2 560.2L1305.7 559.2L1306.3 560.4L1306.8 559.1L1307.4 560.4L1307.9 561.8L1308.5 559.6L1309.0 559.6L1309.6 560.4L1310.1 558.2L1310.7 552.3L1311.2 558.7L1311.8 559.7L1312.3 562.6L1312.9 560.6L1313.4 559.3L1314.0 560.0L1314.5 557.8L1315.1 559.6L1315.6 560.6L1316.2 559.9L1316.7 559.2L1317.3 559.3L1317.8 559.6L1318.4 560.0L1318.9 560.7L1319.5 560.3L1320.0 559.3L1320.6 559.2L1321.1 561.3L1321.7 561.2L1322.2 563.1L1322.8 560.5L1323.3 559.8L1323.9 560.5L1324.4 557.9L1325.0 559.5L1325.5 559.4L1326.1 561.1L1326.6 560.1L1327.2 558.1L1327.7 559.9L1328.3 558.9L1328.8 559.1L1329.4 558.4L1329.9 560.6L1330.5 560.1L1331.0 561.8L1331.6 559.1L1332.1 557.5L1332.7 558.8L1333.2 560.2L1333.8 557.9L1334.3 560.9L1334.9 559.8L1335.4 561.2L1336.0 558.3L1336.5 560.9L1337.1 558.6L1337.6 558.0L1338.2 560.2L1338.7 559.8L1339.3 560.4L1339.8 556.9L1340.4 558.4L1340.9 559.1L1341.5 558.3L1342.0 558.0L1342.6 560.6L1343.1 559.5L1343.7 559.9L1344.2 559.2L1344.8 560.8L1345.3 556.5L1345.9 558.1L1346.4 560.7L1347.0 560.1L1347.5 561.8L1348.1 560.2L1348.6 562.0L1349.2 561.3L1349.7 561.4L1350.3 558.2L1350.8 560.1L1351.4 558.7L1351.9 561.2L1352.5 558.8L1353.0 560.0L1353.6 560.4L1354.1 558.8L1354.7 559.1L1355.2 560.4L1355.8 561.8L1356.3 559.8L1356.9 559.3L1357.4 561.1L1358.0 559.1L1358.5 558.8L1359.1 562.0L1359.6 560.6L1360.2 561.3L1360.7 559.5L1361.3 561.5L1361.8 559.2L1362.4 560.3L1362.9 560.5L1363.5 561.3L1364.0 562.0L1364.6 561.1L1365.1 558.7L1365.7 561.5L1366.2 558.4L1366.8 559.2L1367.3 558.3L1367.9 560.9L1368.4 558.7L1369.0 556.8L1369.5 560.8L1370.1 558.2L1370.6 559.8L1371.2 562.1L1371.7 559.8L1372.3 558.5L1372.8 557.6L1373.4 560.2L1373.9 559.6L1374.5 561.4L1375.0 560.0L1375.6 558.0L1376.1 562.8L1376.7 560.0L1377.2 559.5L1377.8 558.4L1378.3 561.8L1378.9 557.6L1379.4 559.3L1380.0 558.3L1380.5 560.4L1381.1 560.3L1381.6 558.5L1382.2 556.3L1382.7 559.5L1383.3 559.1L1383.8 560.6L1384.4 553.3L1384.9 558.0L1385.5 559.3L1386.0 556.8L1386.6 561.2L1387.1 558.8L1387.7 561.1L1388.2 558.7L1388.8 559.1L1389.3 558.1L1389.9 558.9L1390.4 558.4L1391.0 559.8L1391.5 559.9L1392.1 559.0L1392.6 558.6L1393.2 558.7L1393.7 559.3L1394.3 559.1L1394.8 560.8L1395.4 558.7L1395.9 560.2L1396.5 557.1L1397.0 554.8L1397.6 557.1L1398.1 558.0L1398.7 559.1L1399.2 559.9L1399.8 555.0L1400.3 559.8L1400.9 560.1L1401.4 559.5L1402.0 561.6L1402.5 559.8L1403.1 559.7L1403.6 560.0L1404.2 556.3L1404.7 558.0L1405.3 556.8L1405.8 560.3L1406.4 554.9L1406.9 559.4L1407.5 560.5L1408.0 560.1L1408.6 557.0L1409.1 558.5L1409.7 557.8L1410.2 560.3L1410.8 558.4L1411.3 560.9L1411.9 557.9L1412.4 561.0L1413.0 552.7L1413.5 559.1L1414.1 560.1L1414.6 558.5L1415.2 560.4L1415.7 558.1L1416.3 560.5L1416.8 558.7L1417.4 561.3L1417.9 555.1L1418.5 558.1L1419.0 560.3L1419.6 561.8L1420.1 560.1L1420.7 558.6L1421.2 559.1L1421.8 558.4L1422.3 552.8L1422.9 559.8L1423.4 558.7L1424.0 559.7L1424.5 561.2L1425.1 559.8L1425.6 560.4L1426.2 559.0L1426.7 559.6L1427.3 559.7L1427.8 561.1L1428.4 558.1L1428.9 559.3L1429.5 559.8L1430.0 560.2L1430.6 558.3L1431.1 559.0L1431.7 563.6L1432.2 560.7L1432.8 558.0L1433.3 557.8L1433.9 556.5L1434.4 560.7L1435.0 560.4L1435.5 558.4L1436.1 559.7L1436.6 558.2L1437.2 560.8L1437.7 553.7L1438.3 555.4L1438.8 559.9L1439.4 556.5L1439.9 555.8L1440.5 558.9L1441.0 559.8L1441.6 557.8L1442.1 558.7L1442.7 558.4L1443.2 560.3L1443.8 557.3L1444.3 559.4L1444.9 561.6L1445.4 552.7L1446.0 559.0L1446.5 555.1L1447.1 559.5L1447.6 556.5L1448.2 557.6L1448.7 558.3L1449.3 559.4L1449.8 560.0L1450.4 559.4L1450.9 555.2L1451.5 559.5L1452.0 559.7L1452.6 561.7L1453.1 558.4L1453.7 558.9L1454.2 559.6L1454.8 558.4L1455.3 558.4L1455.9 557.6L1456.4 559.6L1457.0 561.2L1457.5 560.1L1458.1 560.0L1458.6 558.7L1459.2 559.0L1459.7 561.7L1460.3 558.3L1460.8 559.4L1461.4 559.8L1461.9 559.3L1462.5 559.7L1463.0 560.7L1463.6 559.7L1464.1 560.5L1464.7 559.8L1465.2 559.1L1465.8 561.2L1466.3 560.0L1466.9 561.6L1467.4 559.6L1468.0 561.7L1468.5 559.4L1469.1 556.8L1469.6 560.4L1470.2 559.8L1470.7 559.9L1471.3 555.0L1471.8 559.8L1472.4 559.2L1472.9 560.1L1473.5 559.9L1474.0 552.8L1474.6 552.4L1475.1 560.4L1475.7 560.7L1476.2 551.6L1476.8 556.8L1477.3 559.7L1477.9 559.9L1478.4 558.2L1479.0 559.2L1479.5 559.2L1480.1 558.6L1480.6 559.2L1481.2 560.0L1481.7 558.5L1482.3 559.3L1482.8 558.8L1483.4 557.8L1483.9 559.3L1484.5 562.5L1485.0 559.7L1485.6 560.0L1486.1 557.4L1486.7 554.6L1487.2 558.5L1487.8 557.3L1488.3 559.0L1488.9 559.2L1489.4 558.9L1490.0 558.2L1490.5 559.2L1491.1 560.3L1491.6 560.5L1492.2 557.4L1492.7 558.3L1493.3 560.4L1493.8 558.8L1494.4 558.0L1494.9 559.0L1495.5 558.7L1496.0 560.0L1496.6 561.5L1497.1 558.9L1497.7 559.4L1498.2 558.9L1498.8 560.1L1499.3 558.8L1499.9 554.5L1500.4 560.4L1501.0 559.9L1501.5 559.3L1502.1 560.9L1502.6 558.5L1503.2 559.5L1503.7 559.0L1504.3 558.8L1504.8 558.3L1505.4 558.6L1505.9 558.6L1506.5 560.2L1507.0 559.0L1507.6 560.5L1508.1 560.4L1508.7 559.1L1509.2 560.7L1509.8 559.8L1510.3 559.8L1510.9 554.9L1511.4 560.2L1512.0 558.1L1512.5 558.3L1513.1 559.0L1513.6 558.0L1514.2 558.3L1514.7 559.5L1515.3 558.1L1515.8 555.8L1516.4 559.9L1516.9 558.6L1517.5 558.6L1518.0 563.0L1518.6 559.6L1519.1 559.8L1519.7 560.5L1520.2 559.9L1520.8 560.1L1521.3 560.0L1521.9 560.0L1522.4 560.3L1523.0 557.6L1523.5 557.8L1524.1 559.3L1524.6 557.4L1525.2 559.9L1525.7 557.5L1526.3 559.5L1526.8 559.4L1527.4 556.2L1527.9 559.5L1528.5 560.0L1529.0 557.0L1529.6 558.1L1530.1 559.9L1530.7 558.2L1531.2 560.5L1531.8 560.0L1532.3 557.1L1532.9 559.9L1533.4 560.5L1534.0 559.0L1534.5 559.2L1535.1 560.8L1535.6 557.5L1536.2 554.9L1536.7 560.8L1537.3 556.7L1537.8 559.6L1538.4 561.1L1538.9 559.5L1539.5 558.7L1540.0 560.3L1540.6 561.3L1541.1 559.0L1541.7 558.7L1542.2 560.5L1542.8 561.9L1543.3 557.4L1543.9 556.6L1544.4 556.7L1545.0 559.9L1545.5 558.9L1546.1 560.3L1546.6 558.3L1547.2 558.8L1547.7 557.5L1548.3 559.0L1548.8 560.0L1549.4 558.8L1549.9 559.6L1550.5 558.7L1551.0 558.9L1551.6 560.9L1552.1 560.0L1552.7 559.6L1553.2 559.6L1553.8 558.1L1554.3 558.7L1554.9 558.8L1555.4 559.4L1556.0 561.3L1556.5 559.7L1557.1 560.9L1557.6 561.5L1558.2 560.4L1558.7 561.0L1559.3 554.8L1559.8 559.3L1560.4 559.5L1560.9 558.6L1561.5 561.9L1562.0 561.3L1562.6 553.0L1563.1 560.1L1563.7 561.0L1564.2 559.4L1564.8 562.5L1565.3 560.5L1565.9 561.6L1566.4 558.4L1567.0 561.2L1567.5 559.4L1568.1 558.2L1568.6 561.0L1569.2 560.8L1569.7 558.7L1570.3 560.3L1570.8 560.7L1571.4 559.2L1571.9 560.8L1572.5 555.3L1573.0 558.8L1573.6 556.5L1574.1 557.1L1574.7 556.2L1575.2 557.0L1575.8 558.5L1576.3 559.7L1576.9 558.8L1577.4 558.0L1578.0 558.7L1578.5 557.5L1579.1 555.7L1579.6 560.0L1580.2 556.9L1580.7 557.9L1581.3 557.8L1581.8 557.5L1582.4 558.1L1582.9 559.7L1583.5 559.7L1584.0 559.0L1584.6 559.3L1585.1 561.8L1585.7 558.7L1586.2 556.6L1586.8 560.4L1587.3 558.9L1587.9 558.7L1588.4 559.3L1589.0 560.7L1589.5 560.2L1590.1 559.5L1590.6 558.8L1591.2 560.2L1591.7 557.2L1592.3 559.7L1592.8 560.1L1593.4 559.0L1593.9 560.8L1594.5 559.8L1595.0 562.2L1595.6 560.0L1596.1 560.3L1596.7 557.0L1597.2 559.4L1597.8 556.1L1598.3 560.9L1598.9 560.8L1599.4 562.0L1600.0 559.8L1600.5 561.1L1601.1 562.2L1601.6 559.8L1602.2 562.2L1602.7 557.5L1603.3 561.6L1603.8 561.3L1604.4 559.9L1604.9 559.4L1605.5 559.9L1606.0 551.8L1606.6 557.4L1607.1 561.3L1607.7 560.8L1608.2 553.6L1608.8 558.6L1609.3 560.6L1609.9 560.0L1610.4 559.6L1611.0 559.9L1611.5 561.6L1612.1 555.7L1612.6 559.8L1613.2 560.4L1613.7 561.1L1614.3 559.7L1614.8 559.3L1615.4 557.4L1615.9 561.2L1616.5 560.7L1617.0 559.7L1617.6 560.8L1618.1 558.8L1618.7 559.4L1619.2 558.8L1619.8 560.6L1620.3 559.7L1620.9 560.4L1621.4 560.7L1622.0 559.9L1622.5 559.0L1623.1 559.2L1623.6 558.6L1624.2 557.6L1624.7 560.3L1625.3 559.9L1625.8 560.2L1626.4 555.3L1626.9 561.9L1627.5 558.4L1628.0 558.4L1628.6 555.4L1629.1 561.2L1629.7 560.3L1630.2 561.3L1630.8 561.2L1631.3 560.2L1631.9 560.5L1632.4 559.5L1633.0 560.1L1633.5 561.7L1634.1 556.8L1634.6 559.8L1635.2 561.5L1635.7 558.9L1636.3 559.2L1636.8 560.7L1637.4 560.2L1637.9 560.5L1638.5 555.5L1639.0 561.9L1639.6 556.1L1640.1 562.6L1640.7 561.1L1641.2 559.5L1641.8 559.5L1642.3 560.7L1642.9 559.6L1643.4 558.8L1644.0 560.4L1644.5 562.1L1645.1 561.0L1645.6 561.3L1646.2 563.6L1646.7 560.4L1647.3 562.6L1647.8 555.8L1648.4 560.1L1648.9 560.2L1649.5 559.1L1650.0 561.1L1650.6 561.2L1651.1 560.8L1651.7 560.5L1652.2 561.1L1652.8 559.8L1653.3 560.4L1653.9 560.5L1654.4 561.4L1655.0 560.4L1655.5 560.8L1656.1 562.3L1656.6 561.9L1657.2 560.2L1657.7 560.8L1658.3 555.8L1658.8 557.2L1659.4 562.1L1659.9 559.9L1660.5 564.0L1661.0 563.6L1661.6 561.7L1662.1 560.0L1662.7 559.1L1663.2 560.3L1663.8 562.0L1664.3 557.1L1664.9 561.3L1665.4 562.1L1666.0 562.4L1666.5 560.0L1667.1 563.3L1667.6 559.8L1668.2 559.9L1668.7 562.8L1669.3 561.9L1669.8 561.8L1670.4 560.9L1670.9 560.6L1671.5 558.8L1672.0 560.2L1672.6 560.4L1673.1 560.0L1673.7 561.7L1674.2 556.9L1674.8 561.0L1675.3 560.0L1675.9 560.2L1676.4 559.5L1677.0 558.8L1677.5 560.2L1678.1 561.8L1678.6 560.7L1679.2 559.5L1679.7 559.0L1680.3 560.1L1680.8 559.5L1681.4 561.4L1681.9 559.7L1682.5 561.7L1683.0 561.3L1683.6 560.5L1684.1 560.6L1684.7 559.3L1685.2 561.2L1685.8 562.6L1686.3 557.2L1686.9 561.4L1687.4 561.1L1688.0 561.0L1688.5 562.2L1689.1 559.8L1689.6 560.6L1690.2 562.9L1690.7 561.7L1691.3 561.7L1691.8 559.7L1692.4 561.0L1692.9 563.7L1693.5 561.1L1694.0 560.6L1694.6 559.8L1695.1 561.5L1695.7 561.3L1696.2 561.9L1696.8 563.1L1697.3 561.6L1697.9 561.8L1698.4 557.4L1699.0 560.4L1699.5 562.1L1700.1 562.0L1700.6 562.2L1701.2 561.5L1701.7 560.2" fill="none" stroke="#111" stroke-width="1.1" stroke-linejoin="round"/>
<defs><linearGradient id="pk2" x1="0" y1="89" x2="0" y2="560" gradientUnits="userSpaceOnUse"><stop offset="0" stop-color="#8c8c8c"/><stop offset="0.5" stop-color="#747474"/><stop offset="0.9" stop-color="#6a6a6a"/><stop offset="1" stop-color="#555"/></linearGradient><linearGradient id="pk1" x1="0" y1="421" x2="0" y2="560" gradientUnits="userSpaceOnUse"><stop offset="0" stop-color="#8c8c8c"/><stop offset="0.45" stop-color="#5a5a5a"/><stop offset="0.8" stop-color="#3a3a3a"/><stop offset="1" stop-color="#1a1a1a"/></linearGradient></defs>
<path d="M1567.9 89.2L1567.3 95.0L1567.1 240.0L1567.0 330.0L1570.0 330.0L1569.9 240.0L1569.7 95.0L1569.1 89.2Z" fill="url(#pk2)"/>
<path d="M1567.0 330.0L1566.9 420.0L1566.8 508.0L1566.7 514.0L1566.4 535.0L1565.9 546.0L1565.3 553.0L1564.2 558.0L1562.5 561.0L1577.5 561.0L1575.3 558.0L1573.9 553.0L1572.9 546.0L1572.2 535.0L1571.5 514.0L1570.2 508.0L1570.2 420.0L1570.0 330.0Z" fill="url(#pk2)" stroke="#262626" stroke-width="0.9" stroke-linejoin="round"/>
<rect x="1567.2" y="145.5" width="2.8" height="7.5" fill="#222"/>
<path d="M1270.1 421.5L1269.7 428.0L1269.5 470.0L1269.4 500.0L1271.8 500.0L1271.7 470.0L1271.5 428.0L1271.1 421.5Z" fill="url(#pk1)"/>
<path d="M1269.4 500.0L1269.4 528.0L1268.8 536.0L1268.4 548.0L1267.8 554.0L1266.8 558.0L1265.6 561.0L1277.6 561.0L1275.4 558.0L1274.0 554.0L1273.1 548.0L1272.7 536.0L1271.8 528.0L1271.8 500.0Z" fill="url(#pk1)" stroke="#262626" stroke-width="0.9" stroke-linejoin="round"/>
</svg>
</body></html>
